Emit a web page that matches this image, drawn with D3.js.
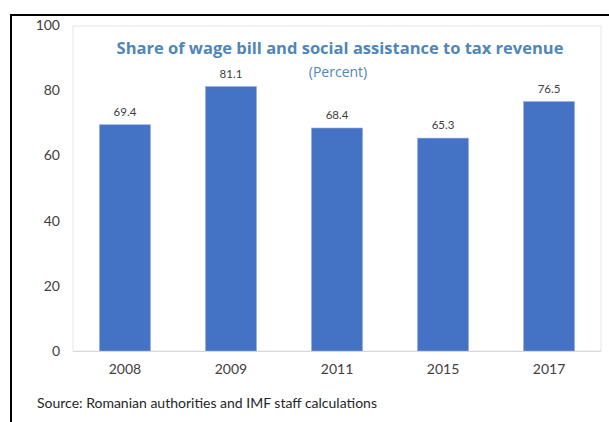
<!DOCTYPE html>
<html>
<head>
<meta charset="utf-8">
<script src="https://cdn.jsdelivr.net/npm/d3@7"></script>
<style>
  body { margin: 0; background: #fff; }
  svg { display: block; }
</style>
</head>
<body>
<div class="graph_container"></div>
<script>
const years = ['2008', '2009', '2011', '2015', '2017'];
const values = [69.4, 81.1, 68.4, 65.3, 76.5];
const yTicks = [0, 20, 40, 60, 80, 100];

const titleText = 'Share of wage bill and social assistance to tax revenue';
const subtitleText = '(Percent)';
const sourceText = 'Source: Romanian authorities and IMF staff calculations';

const W = 609, H = 422;
const plot = { left: 73, right: 601, top: 25, bottom: 351 };

const svg = d3.select('.graph_container').append('svg')
  .attr('width', W)
  .attr('height', H);

// outer black frame (runs off the right and bottom edge)
svg.append('path')
  .attr('d', 'M11,' + (H + 5) + 'V15H' + (W + 5))
  .attr('fill', 'none')
  .attr('stroke', '#000')
  .attr('stroke-width', 2);

// light inner plot box
svg.append('rect')
  .attr('x', plot.left)
  .attr('y', plot.top + 1)
  .attr('width', plot.right - plot.left)
  .attr('height', plot.bottom - plot.top - 1)
  .attr('fill', 'none')
  .attr('stroke', '#e6e6e6')
  .attr('stroke-width', 1);

let x = d3.scaleBand()
  .domain(years)
  .range([plot.left, plot.right])
  .paddingInner(0.52)
  .paddingOuter(0.25);

let y = d3.scaleLinear()
  .domain([0, 100])
  .range([plot.bottom, plot.top]);

// y axis labels
let yAxis = d3.axisLeft(y)
  .tickValues(yTicks)
  .tickSize(0)
  .tickPadding(0);

svg.append('g')
  .attr('class', 'y axis')
  .attr('transform', 'translate(60,0)')
  .call(yAxis)
  .call(g => g.select('.domain').remove())
  .selectAll('text')
  .attr('font-family', 'Lato, "Open Sans", sans-serif')
  .attr('font-size', 14)
  .attr('fill', '#404040');

// bars
svg.selectAll('.bar')
  .data(values)
  .enter().append('rect')
  .attr('class', 'bar')
  .attr('x', (d, i) => x(years[i]))
  .attr('width', x.bandwidth())
  .attr('y', d => y(d))
  .attr('height', d => plot.bottom - y(d))
  .attr('fill', '#4472C4')
  .attr('stroke', '#8fa9dc')
  .attr('stroke-width', 0.6);

// zero line
svg.append('line')
  .attr('x1', plot.left)
  .attr('x2', plot.right)
  .attr('y1', y(0) + 0.5)
  .attr('y2', y(0) + 0.5)
  .attr('stroke', '#d9d9d9')
  .attr('stroke-width', 1);

// value labels
svg.selectAll('.val')
  .data(values)
  .enter().append('text')
  .attr('class', 'val')
  .attr('x', (d, i) => x(years[i]) + x.bandwidth() / 2)
  .attr('y', d => y(d) - 9)
  .attr('text-anchor', 'middle')
  .attr('font-family', 'Lato, "Open Sans", sans-serif')
  .attr('font-size', 11.5)
  .attr('fill', '#404040')
  .text(d => d.toFixed(1));

// x axis labels
let xAxis = d3.axisBottom(x)
  .tickSize(0)
  .tickPadding(0);

svg.append('g')
  .attr('class', 'x axis')
  .attr('transform', 'translate(0,' + (plot.bottom + 13) + ')')
  .call(xAxis)
  .call(g => g.select('.domain').remove())
  .selectAll('text')
  .attr('font-family', 'Lato, "Open Sans", sans-serif')
  .attr('font-size', 14)
  .attr('fill', '#404040');

// title and subtitle
svg.append('text')
  .attr('x', 340)
  .attr('y', 54)
  .attr('text-anchor', 'middle')
  .attr('font-family', '"Open Sans", sans-serif')
  .attr('font-weight', 'bold')
  .attr('font-size', 16.5)
  .attr('fill', '#4f86ba')
  .text(titleText);

svg.append('text')
  .attr('x', 338)
  .attr('y', 77)
  .attr('text-anchor', 'middle')
  .attr('font-family', '"Open Sans", sans-serif')
  .attr('font-size', 14)
  .attr('fill', '#4f86ba')
  .text(subtitleText);

// source note
svg.append('text')
  .attr('x', 37)
  .attr('y', 408)
  .attr('font-family', 'Lato, "Open Sans", sans-serif')
  .attr('font-size', 14)
  .attr('fill', '#262626')
  .text(sourceText);
</script>
</body>
</html>
